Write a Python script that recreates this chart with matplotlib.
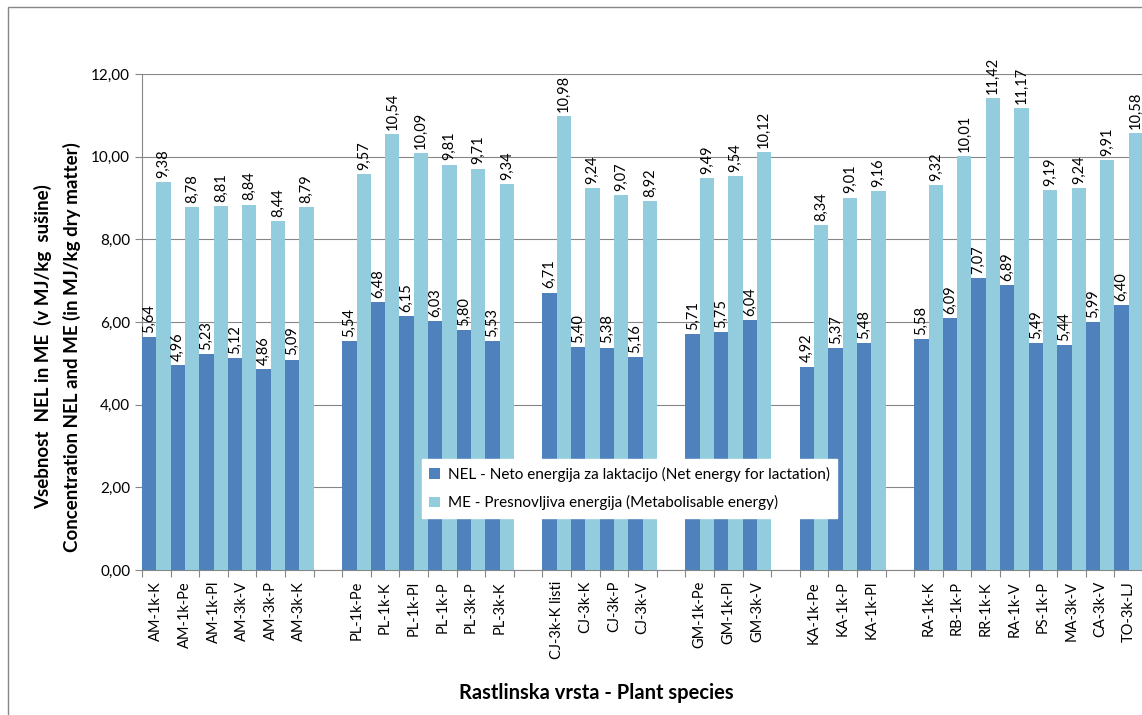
import numpy as np
import matplotlib
matplotlib.use("Agg")
import matplotlib.pyplot as plt
from matplotlib.patches import Rectangle

plt.rcParams['font.family'] = ['Lato', 'DejaVu Sans']

# groups of plant samples (empty slot between groups)
group_labels = [
    ["AM-1k-K", "AM-1k-Pe", "AM-1k-Pl", "AM-3k-V", "AM-3k-P", "AM-3k-K"],
    ["PL-1k-Pe", "PL-1k-K", "PL-1k-Pl", "PL-1k-P", "PL-3k-P", "PL-3k-K"],
    ["CJ-3k-K listi", "CJ-3k-K", "CJ-3k-P", "CJ-3k-V"],
    ["GM-1k-Pe", "GM-1k-Pl", "GM-3k-V"],
    ["KA-1k-Pe", "KA-1k-P", "KA-1k-Pl"],
    ["RA-1k-K", "RB-1k-P", "RR-1k-K", "RA-1k-V", "PS-1k-P", "MA-3k-V", "CA-3k-V", "TO-3k-LJ"],
]
nel_values = [
    [5.64, 4.96, 5.23, 5.12, 4.86, 5.09],
    [5.54, 6.48, 6.15, 6.03, 5.80, 5.53],
    [6.71, 5.40, 5.38, 5.16],
    [5.71, 5.75, 6.04],
    [4.92, 5.37, 5.48],
    [5.58, 6.09, 7.07, 6.89, 5.49, 5.44, 5.99, 6.40],
]
me_values = [
    [9.38, 8.78, 8.81, 8.84, 8.44, 8.79],
    [9.57, 10.54, 10.09, 9.81, 9.71, 9.34],
    [10.98, 9.24, 9.07, 8.92],
    [9.49, 9.54, 10.12],
    [8.34, 9.01, 9.16],
    [9.32, 10.01, 11.42, 11.17, 9.19, 9.24, 9.91, 10.58],
]
series_names = ["NEL - Neto energija za laktacijo (Net energy for lactation)",
                "ME - Presnovljiva energija (Metabolisable energy)"]
ylabel_lines = ["Vsebnost  NEL in ME  (v MJ/kg  sušine)",
                "Concentration NEL and ME (in MJ/kg dry matter)"]

# build flat slot lists with empty gap slots
labels, nel, me = [], [], []
for gi, (gl, gn, gm) in enumerate(zip(group_labels, nel_values, me_values)):
    if gi > 0:
        labels.append("")
        nel.append(np.nan)
        me.append(np.nan)
    labels += gl
    nel += gn
    me += gm
n = len(labels)
x = np.arange(n)

c_nel = "#4F81BD"
c_me = "#93CDDD"

fig = plt.figure(figsize=(11.42, 7.15), dpi=100)
ax = fig.add_axes([142/1142, 1-570/715, 1001/1142, (570-74)/715])

w = 0.5
ax.bar(x - w/2, nel, width=w, color=c_nel, label=series_names[0], zorder=3)
ax.bar(x + w/2, me, width=w, color=c_me, label=series_names[1], zorder=3)

def fmt(v):
    return f"{v:.2f}".replace(".", ",")

for xs, vals in ((x - w/2, nel), (x + w/2, me)):
    for xi, v in zip(xs, vals):
        if np.isnan(v):
            continue
        ax.annotate(fmt(v), (xi, v), xytext=(0, 3), textcoords="offset points",
                    rotation=90, ha="center", va="bottom", fontsize=10.5,
                    color="#000000", annotation_clip=False, zorder=4)

ax.set_xlim(-0.5, n - 0.5)
ax.set_ylim(0, 12)
ax.set_yticks(np.arange(0, 12.01, 2))
ax.set_yticklabels([fmt(v) for v in np.arange(0, 12.01, 2)], fontsize=11)
ax.yaxis.grid(True, color="#868686", linewidth=0.8, zorder=0)
ax.set_axisbelow(True)

# boundaries as major ticks, labels at centres as minor ticks
ax.set_xticks(np.arange(-0.5, n, 1.0))
ax.set_xticklabels([])
ax.set_xticks(x, minor=True)
ax.set_xticklabels(labels, minor=True, rotation=90, fontsize=10.5)
ax.tick_params(axis="x", which="minor", length=0, pad=8)
ax.tick_params(axis="x", which="major", length=5, color="#868686", direction="out")
ax.tick_params(axis="y", length=5, color="#868686", direction="out")

for s in ("top", "right"):
    ax.spines[s].set_visible(False)
ax.spines["left"].set_color("#868686")
ax.spines["bottom"].set_color("#868686")

# two-line y-axis title
fig.text(43/1142, 1-347/715, ylabel_lines[0], rotation=90, ha="center", va="center",
         fontsize=13.5, fontweight="bold")
fig.text(72/1142, 1-347/715, ylabel_lines[1], rotation=90, ha="center", va="center",
         fontsize=13.5, fontweight="bold")

ax.set_xlabel("Rastlinska vrsta - Plant species", fontsize=14.5, fontweight="bold")
ax.xaxis.set_label_coords((596-142)/1001, -(693-570)/496)
ax.xaxis.label.set_va("center")

leg = ax.legend(loc="center", bbox_to_anchor=(0.487, 0.164),
                frameon=True, fontsize=11, handlelength=0.7, handleheight=0.7,
                borderpad=0.5, labelspacing=0.85, handletextpad=0.5, fancybox=False)
leg.get_frame().set_facecolor("white")
leg.get_frame().set_edgecolor("white")
leg.get_frame().set_alpha(1.0)
leg.set_zorder(5)

# chart border
fig.patches.append(Rectangle((8/1142, -0.1), 1.2, 1 - 7/715 + 0.1, transform=fig.transFigure,
                             fill=False, edgecolor="#868686", linewidth=1.0))

fig.savefig("out.png", dpi=100)
